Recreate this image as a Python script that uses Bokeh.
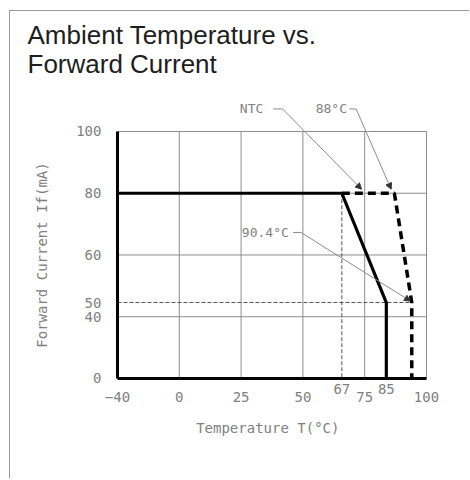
import numpy as np
from bokeh.plotting import figure
from bokeh.models import Range1d, FixedTicker, Label, Arrow, NormalHead
from bokeh.embed import file_html
from bokeh.resources import INLINE

# ---------------- data ----------------
# the drawing's temperature / current scales are not linear: labelled ticks sit on slots
X_TICK_VALUES = [-40, 0, 25, 50, 67, 75, 85, 100]
X_TICK_SLOTS = [0, 1, 2, 3, 3.63, 4, 4.35, 5]
Y_TICK_VALUES = [0, 40, 50, 60, 80, 100]
Y_TICK_SLOTS = [0, 1, 1.23, 2, 3, 4]

X_AXIS_TICKS = [-40, 0, 25, 50, 75, 100]
X_AXIS_LABELS = ["\u221240", "0", "25", "50", "75", "100"]
X_RAISED_TICKS = [67, 85]
Y_AXIS_TICKS = [0, 40, 50, 60, 80, 100]
X_GRID = [0, 25, 50, 75, 100]
Y_GRID = [40, 60, 80, 100]
T_MIN, T_MAX = -40, 100
I_MIN, I_MAX = 0, 100

# derating curves: temperature (°C) vs forward current (mA)
solid_temp = [-40, 67, 85, 85]
solid_current = [80, 80, 50, 0]
ntc_temp = [67, 88, 94.5, 94.5]
ntc_current = [80, 80, 50, 0]
guide67_temp = [67, 67]
guide67_current = [80, 0]
guide50_temp = [-40, 94.5]
guide50_current = [50, 50]

# callouts: text, text right end, leader start, elbow, arrow tip (temp, current)
callout_text = ["NTC", "88\u00b0C", "90.4\u00b0C"]
callout_text_at = [(34, 107.3), (68.8, 107.3), (44.3, 67.3)]
callout_start = [(38, 107.3), (69.6, 107.3), (46, 67.3)]
callout_elbow = [(41.8, 107.3), (72, 107.3), (49.2, 67.3)]
callout_tip = [(73.9, 81.3), (86.8, 81.3), (94, 50.3)]

TITLE_LINES = ["Ambient Temperature vs.", "Forward Current"]


def fx(t):
    t = np.asarray(t, dtype=float)
    return np.interp(t, X_TICK_VALUES, X_TICK_SLOTS)


def fy(c):
    c = np.asarray(c, dtype=float)
    out = np.interp(c, Y_TICK_VALUES, Y_TICK_SLOTS)
    over = c > Y_TICK_VALUES[-1]
    slope = (Y_TICK_SLOTS[-1] - Y_TICK_SLOTS[-2]) / (Y_TICK_VALUES[-1] - Y_TICK_VALUES[-2])
    return np.where(over, Y_TICK_SLOTS[-1] + (c - Y_TICK_VALUES[-1]) * slope, out)


GRID = "#8c8c8c"
TXT = "#808080"
FONT = "DejaVu Sans Mono"

p = figure(width=460, height=468, output_backend="svg", toolbar_location=None,
           x_range=Range1d(-1.731, 5.712), y_range=Range1d(-1.636, 5.943),
           min_border=0, min_border_left=0, min_border_right=0,
           min_border_top=0, min_border_bottom=0)
p.styles = {"border-left": "1px solid #9a9a9a", "border-top": "1px solid #9a9a9a",
            "margin-left": "9px", "margin-top": "10px"}
p.outline_line_color = None
p.background_fill_color = "white"
p.border_fill_color = "white"
p.grid.visible = False

# grid lines and plot box (top / right)
for t in X_GRID:
    p.line(fx([t, t]), fy([I_MIN, I_MAX]), line_color=GRID, line_width=1)
for c in Y_GRID:
    p.line(fx([T_MIN, T_MAX]), fy([c, c]), line_color=GRID, line_width=1)

# axes (fixed at -40 °C and 0 mA)
xt = [float(v) for v in fx(X_AXIS_TICKS)]
p.xaxis.ticker = FixedTicker(ticks=xt)
p.xaxis.major_label_overrides = {k: lab for k, lab in zip(xt, X_AXIS_LABELS)}
p.xaxis.fixed_location = float(fy(I_MIN))
p.xaxis.bounds = (float(fx(T_MIN)), float(fx(T_MAX)))
yt = [float(v) for v in fy(Y_AXIS_TICKS)]
p.yaxis.ticker = FixedTicker(ticks=yt)
p.yaxis.major_label_overrides = {k: str(v) for k, v in zip(yt, Y_AXIS_TICKS)}
p.yaxis.fixed_location = float(fx(T_MIN))
p.yaxis.bounds = (float(fy(I_MIN)), float(fy(I_MAX)))
p.xaxis.axis_label = "Temperature  T(\u00b0C)"
p.yaxis.axis_label = "Forward Current If(mA)"
for ax in (p.xaxis, p.yaxis):
    ax.axis_line_width = 3
    ax.axis_line_color = "black"
    ax.major_tick_line_color = None
    ax.minor_tick_line_color = None
    ax.major_tick_out = 0
    ax.major_tick_in = 0
    ax.major_label_text_font = FONT
    ax.major_label_text_font_size = "14px"
    ax.major_label_text_color = TXT
    ax.axis_label_text_font = FONT
    ax.axis_label_text_font_size = "14px"
    ax.axis_label_text_font_style = "normal"
    ax.axis_label_text_color = TXT
p.xaxis.major_label_standoff = 14
p.xaxis.axis_label_standoff = 14
p.yaxis.major_label_standoff = 16
p.yaxis.axis_label_standoff = 23

# raised tick labels 67 and 85
for t in X_RAISED_TICKS:
    p.add_layout(Label(x=float(fx(t)), y=float(fy(I_MIN)), text=str(t), text_align="center",
                       text_baseline="middle", y_offset=-11, text_font=FONT,
                       text_font_size="14px", text_color=TXT))

# guides
p.line(fx(guide67_temp), fy(guide67_current), line_width=1, line_color="#555555", line_dash="4 2")
p.line(fx(guide50_temp), fy(guide50_current), line_width=1, line_color="#555555", line_dash="4 2")

# curves
p.line(fx(solid_temp), fy(solid_current), line_width=3.2, line_color="black")
p.line(fx(ntc_temp), fy(ntc_current), line_width=3.5, line_color="black", line_dash="8 5")

# callouts
for txt, at, st, el, tip in zip(callout_text, callout_text_at, callout_start, callout_elbow, callout_tip):
    p.add_layout(Label(x=float(fx(at[0])), y=float(fy(at[1])), text=txt, text_align="right",
                       text_baseline="middle", text_font=FONT, text_font_size="13px",
                       text_color=TXT))
    p.add_layout(Arrow(x_start=float(fx(st[0])), y_start=float(fy(st[1])),
                       x_end=float(fx(el[0])), y_end=float(fy(el[1])), end=None,
                       line_color=GRID, line_width=1))
    p.add_layout(Arrow(x_start=float(fx(el[0])), y_start=float(fy(el[1])),
                       x_end=float(fx(tip[0])), y_end=float(fy(tip[1])),
                       end=NormalHead(size=6, fill_color="#333333", line_color="#333333",
                                      line_width=1),
                       line_color=GRID, line_width=1))

# title (two lines)
for line_text, y in zip(TITLE_LINES, [445, 416]):
    p.add_layout(Label(x=17, y=y, x_units="screen", y_units="screen",
                       text=line_text, text_font="Liberation Sans",
                       text_font_size="26px", text_color="#1e1e1e", text_baseline="alphabetic"))

open("out.html", "w").write(file_html(p, INLINE))
